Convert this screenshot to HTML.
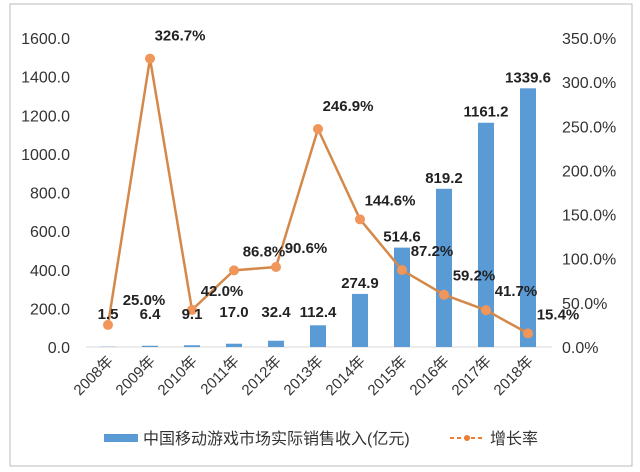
<!DOCTYPE html>
<html><head><meta charset="utf-8"><style>
body{margin:0;background:#fff;}
svg{display:block;font-family:"Liberation Sans","Noto Sans CJK SC",sans-serif;}
</style></head><body>
<svg id="c" width="640" height="472" viewBox="0 0 640 472">
<rect x="10" y="4" width="622" height="462" fill="#fff" stroke="#bbb"/>
<g id="axes"></g><g id="bars"></g><g id="line"></g><g id="labels"></g>
<g>
<rect x="104" y="434" width="34" height="8" fill="#5b9bd5"/>
<text x="143" y="444" font-size="16" fill="#333">中国移动游戏市场实际销售收入(亿元)</text>
<line x1="450" y1="438" x2="484" y2="438" stroke="#ed7d31" stroke-width="2" stroke-dasharray="4,3"/>
<circle cx="467" cy="438" r="3" fill="#ed7d31"/>
<text x="490" y="444" font-size="16" fill="#333">增长率</text>
</g>
</svg>
<script>
const categories=["2008年","2009年","2010年","2011年","2012年","2013年","2014年","2015年","2016年","2017年","2018年"];
const revenue=[1.5,6.4,9.1,17.0,32.4,112.4,274.9,514.6,819.2,1161.2,1339.6];
const growth=[25.0,326.7,42.0,86.8,90.6,246.9,144.6,87.2,59.2,41.7,15.4];
const leftTicks=[0,200,400,600,800,1000,1200,1400,1600];
const rightTicks=[0,50,100,150,200,250,300,350];
const NS="http://www.w3.org/2000/svg";
const y0=347,yTop=38;
const yL=v=>y0-v/1600*(y0-yTop);
const yR=v=>y0-v/350*(y0-yTop);
const xC=i=>108+i*42;
function mk(tag,attrs,parent,txt){const e=document.createElementNS(NS,tag);for(const k in attrs)e.setAttribute(k,attrs[k]);if(txt!==undefined)e.textContent=txt;parent.appendChild(e);return e;}
const ax=document.getElementById('axes'),bg=document.getElementById('bars'),lg=document.getElementById('line'),lb=document.getElementById('labels');
let e=mk('line',{x1:86,y1:y0,x2:552,y2:y0,stroke:'#d9d9d9'},ax);


leftTicks.forEach(t=>{const el=mk('text',{x:70,y:yL(t)+6,'text-anchor':'end','font-size':16,fill:'#333'},ax,t.toFixed(1));

});
rightTicks.forEach(t=>{const el=mk('text',{x:562,y:yR(t)+6,'font-size':16,fill:'#333'},ax,t.toFixed(1)+'%');

});
categories.forEach((c,i)=>{const x=xC(i);const el=mk('text',{x:x+6,y:362,'text-anchor':'end','font-size':15,fill:'#333',transform:`rotate(-45 ${x+6} 362)`},ax,c);

});
revenue.forEach((v,i)=>{const el=mk('rect',{x:xC(i)-8,y:yL(v),width:16,height:y0-yL(v),fill:'#5b9bd5'},bg);

});
const pts=growth.map((g,i)=>xC(i)+','+yR(g)).join(' ');
e=mk('polyline',{points:pts,fill:'none',stroke:'#d4894a','stroke-width':2.5},lg);


growth.forEach((g,i)=>{const el=mk('circle',{cx:xC(i),cy:yR(g),r:5,fill:'#f0965a'},lg);

});
revenue.forEach((v,i)=>{const yy=Math.min(yL(v)-6,y0-30);const el=mk('text',{x:xC(i),y:i<3?yy+2:yy,'text-anchor':'middle','font-size':15,'font-weight':'bold',fill:'#222'},lb,v.toFixed(1));

});
growth.forEach((g,i)=>{const x=xC(i)+30,y=yR(g)-(g>200?18:14);const el=mk('text',{x:i==0?xC(i)+36:x,y:i==0?y-6:y,'text-anchor':'middle','font-size':15,'font-weight':'bold',fill:'#222'},lb,g.toFixed(1)+'%');

});
</script>
</body></html>
